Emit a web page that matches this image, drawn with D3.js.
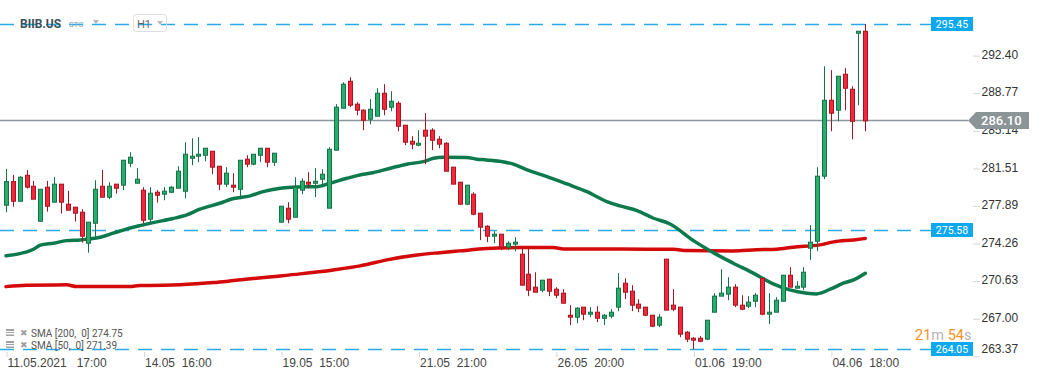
<!DOCTYPE html>
<html>
<head>
<meta charset="utf-8">
<script src="https://cdn.jsdelivr.net/npm/d3@7"></script>
<style>
  body { margin: 0; background: #fff; }
  svg { display: block; font-family: Roboto, "Noto Sans", sans-serif; }
</style>
</head>
<body>
<svg id="chart" width="1041" height="380"></svg>
<script>
// BIIB.US, H1 bars (11.05.2021 17:00 -> 07.06.2021)
const opens = [
  277.96, 280.24, 278.34, 280.85, 279.79, 276.41, 279.70, 278.25, 279.99, 278.06,
  277.77, 277.28, 274.29, 276.22, 279.79, 278.73, 279.99, 279.89, 282.01, 280.08,
  279.41, 276.61, 279.21, 279.02, 279.21, 279.60, 279.31, 282.49, 282.69, 282.78,
  283.17, 281.72, 279.99, 279.89, 279.50, 282.40, 281.92, 282.78, 283.46, 282.11,
  276.32, 277.67, 276.80, 279.41, 280.18, 280.08, 280.47, 277.67, 283.27, 287.32,
  289.92, 287.71, 287.13, 286.26, 286.55, 288.77, 287.42, 287.80, 285.68, 284.13,
  283.75, 285.20, 285.20, 284.33, 283.94, 281.63, 280.18, 278.06, 279.02, 277.19,
  275.93, 274.97, 275.16, 273.91, 274.20, 273.23, 271.30, 270.05, 269.76, 270.82,
  269.85, 269.47, 267.34, 267.15, 268.12, 267.44, 267.63, 267.05, 267.25, 268.12,
  270.43, 269.66, 268.41, 268.12, 267.34, 266.38, 272.75, 268.31, 268.12, 265.70,
  265.12, 265.12, 265.03, 267.63, 269.18, 269.37, 270.05, 268.31, 268.21, 268.69,
  270.91, 267.44, 267.63, 268.69, 271.20, 269.95, 270.05, 273.81, 274.48, 280.76,
  288.09, 287.13, 290.60, 289.15, 294.56, 294.75
];
const highs = [
  281.46, 280.88, 280.76, 281.36, 280.30, 279.50, 280.30, 280.69, 279.99, 279.34,
  277.77, 277.57, 276.32, 280.37, 281.36, 280.18, 279.99, 282.30, 283.07, 281.53,
  279.70, 279.70, 279.41, 279.70, 279.79, 281.72, 284.04, 284.42, 284.52, 283.46,
  283.17, 281.72, 281.63, 281.05, 282.30, 282.78, 282.88, 283.46, 283.46, 282.98,
  277.86, 278.25, 280.66, 280.56, 281.14, 281.53, 281.43, 283.56, 287.71, 289.83,
  290.31, 287.90, 287.22, 288.19, 289.25, 289.64, 288.96, 287.99, 285.68, 284.62,
  285.20, 286.84, 285.39, 284.62, 284.04, 281.63, 280.18, 279.89, 279.21, 277.19,
  276.03, 275.45, 275.16, 274.48, 274.87, 274.00, 273.81, 271.49, 270.72, 270.82,
  270.05, 269.85, 268.31, 268.12, 268.12, 268.12, 268.21, 267.44, 267.92, 271.40,
  270.91, 270.24, 268.89, 268.12, 267.34, 267.44, 272.75, 269.85, 268.12, 265.80,
  265.22, 265.32, 266.86, 269.47, 271.78, 271.01, 270.34, 269.27, 269.18, 269.47,
  270.91, 269.47, 269.08, 271.20, 271.98, 270.62, 271.98, 276.03, 281.63, 291.37,
  290.99, 290.41, 291.18, 289.44, 294.75, 295.45
];
const lows = [
  277.28, 277.82, 278.34, 279.56, 278.54, 276.41, 277.34, 278.25, 277.15, 277.48,
  276.38, 274.35, 273.38, 274.93, 278.73, 278.54, 279.08, 279.41, 281.63, 280.08,
  276.22, 276.22, 278.21, 278.44, 279.12, 279.60, 278.63, 281.82, 282.11, 282.20,
  280.95, 279.41, 279.70, 279.21, 278.54, 281.63, 281.82, 282.11, 281.63, 281.75,
  276.32, 276.22, 276.80, 279.02, 279.60, 278.73, 279.99, 277.67, 283.27, 287.32,
  287.42, 286.64, 285.20, 285.78, 286.55, 286.64, 287.03, 285.10, 283.75, 283.36,
  283.65, 281.92, 283.27, 283.46, 281.24, 279.99, 277.96, 277.96, 276.99, 274.58,
  274.39, 274.29, 273.62, 273.62, 273.52, 270.24, 269.18, 269.56, 269.56, 269.18,
  268.98, 268.50, 266.38, 266.57, 266.86, 267.15, 266.67, 266.38, 267.05, 267.73,
  268.89, 267.73, 267.63, 267.25, 266.19, 266.19, 267.83, 267.73, 265.22, 264.74,
  264.05, 264.74, 264.93, 267.63, 269.18, 268.79, 268.12, 267.83, 268.02, 268.12,
  267.34, 266.48, 267.63, 268.69, 270.05, 269.95, 269.76, 272.68, 273.52, 280.47,
  285.10, 286.06, 287.13, 284.33, 287.61, 285.10
];
const closes = [
  280.24, 278.34, 280.66, 279.70, 278.54, 279.50, 277.86, 279.99, 278.25, 277.48,
  277.19, 274.97, 276.32, 279.50, 278.73, 279.79, 279.60, 282.30, 282.59, 280.47,
  276.51, 279.12, 278.92, 279.31, 279.70, 281.24, 282.88, 282.69, 282.88, 283.46,
  281.63, 279.99, 281.05, 279.70, 282.30, 281.92, 282.88, 283.46, 282.11, 282.98,
  277.86, 276.61, 279.70, 280.27, 279.99, 280.27, 280.95, 283.36, 287.42, 289.64,
  287.61, 287.13, 286.16, 287.22, 288.77, 287.22, 287.99, 285.58, 284.04, 283.85,
  283.94, 284.62, 284.23, 283.85, 281.24, 279.99, 278.06, 279.89, 277.09, 275.84,
  274.97, 275.16, 273.91, 274.29, 274.39, 270.24, 269.76, 269.56, 270.72, 269.66,
  269.27, 268.50, 267.15, 268.02, 267.44, 267.63, 267.05, 267.34, 267.63, 269.95,
  269.56, 268.31, 268.02, 267.34, 266.28, 267.15, 267.83, 267.92, 265.51, 265.03,
  264.93, 264.83, 266.86, 269.18, 269.47, 270.05, 268.31, 267.92, 268.60, 269.27,
  267.44, 267.63, 268.79, 271.20, 270.05, 270.14, 271.49, 274.39, 280.76, 288.09,
  286.84, 290.41, 289.25, 286.06, 294.75, 286.10
];

// moving averages: [bar index, value]
const sma50 = [
  [0, 273.07], [4, 273.71], [5, 274.10], [6.9, 274.29], [8.8, 274.54], [10.8, 274.61],
  [12.2, 274.71], [13.7, 274.87], [15.6, 275.26], [17.6, 275.67], [19.5, 275.99],
  [21.4, 276.28], [24.3, 276.67], [26.3, 277.02], [28.2, 277.57], [31.1, 278.15],
  [33.1, 278.60], [35.5, 278.86], [37.4, 279.27], [39.9, 279.60], [42.3, 279.72],
  [45.2, 279.75], [47.1, 280.08], [49.6, 280.56], [52, 280.95], [53.4, 281.10],
  [55.9, 281.53], [58.3, 281.92], [60.7, 282.17], [62.2, 282.49], [63.6, 282.59],
  [67, 282.57], [68.5, 282.40], [69.9, 282.33], [73.8, 281.92], [75.8, 281.36],
  [78.7, 280.72], [81.6, 280.01], [84.5, 279.27], [87.4, 278.31], [89.3, 277.89],
  [91.8, 277.44], [94.2, 276.70], [96.6, 276.15], [100, 274.54], [102.9, 273.38],
  [105.8, 272.36], [108.7, 271.40], [111.6, 270.36], [114, 269.78], [116.5, 269.47],
  [117.9, 269.40], [119.9, 269.85], [121.8, 270.43], [123.3, 270.75], [125, 271.39]
];
const sma200 = [
  [0, 270.10], [3, 270.24], [8.8, 270.27], [10.3, 270.10], [18, 270.10], [19.5, 270.22],
  [20.9, 270.20], [25.3, 270.27], [30.2, 270.49], [33.1, 270.68], [37.9, 271.01],
  [42.8, 271.33], [47.6, 271.71], [51.5, 272.10], [55.4, 272.68], [59.8, 273.16],
  [63.1, 273.38], [66, 273.55], [69.9, 273.77], [74.8, 273.87], [79.6, 273.87],
  [81.1, 273.74], [86.9, 273.74], [93.2, 273.71], [97.1, 273.71], [99, 273.58],
  [105.8, 273.55], [109.2, 273.67], [112.1, 273.71], [114.5, 273.91], [118.4, 274.13],
  [120.4, 274.42], [123.3, 274.61], [125, 274.75]
];

const levels = [295.45, 275.58, 264.05];
const lastPrice = 286.10;
const yTicks = [292.40, 288.77, 285.14, 281.51, 277.89, 274.26, 270.63, 267.00, 263.37];
const xTickIdx = [0, 20, 40, 60, 80, 100, 120];
const xTickLabels = ["11.05.2021   17:00", "14.05  16:00", "19.05  15:00", "21.05  21:00",
  "26.05  20:00", "01.06  19:00", "04.06  18:00"];
const legendRows = ["SMA [200,  0] 274.75", "SMA [50,  0] 271.39"];

const svg = d3.select("#chart");
const W = 1041, H = 380;

const x = d3.scaleLinear().domain([0, opens.length - 1]).range([6, 865.3]);
const y = d3.scaleLinear().domain([264.05, 295.45]).range([349.3, 24]);

const candles = opens.map((o, i) => ({ i, o, h: highs[i], l: lows[i], c: closes[i] }));

// --- level lines ---
const gLevels = svg.append("g");
gLevels.selectAll("line")
  .data(levels)
  .join("line")
  .attr("x1", 0)
  .attr("x2", 931)
  .attr("y1", d => Math.round(y(d)) + 0.5)
  .attr("y2", d => Math.round(y(d)) + 0.5)
  .attr("stroke", "#29aae8")
  .attr("stroke-width", 1.4)
  .attr("stroke-dasharray", "14,9");

// current price line
svg.append("line")
  .attr("x1", 0).attr("x2", 968)
  .attr("y1", Math.round(y(lastPrice)) - 0.5)
  .attr("y2", Math.round(y(lastPrice)) - 0.5)
  .attr("stroke", "#8a969c")
  .attr("stroke-width", 1.3);

// --- moving averages ---
const maLine = d3.line()
  .x(d => x(d[0]))
  .y(d => y(d[1]))
  .curve(d3.curveMonotoneX);

svg.append("path")
  .attr("d", maLine(sma200))
  .attr("fill", "none")
  .attr("stroke", "#d40a0a")
  .attr("stroke-width", 3.5)
  .attr("stroke-linecap", "round");

svg.append("path")
  .attr("d", maLine(sma50))
  .attr("fill", "none")
  .attr("stroke", "#0d7a4e")
  .attr("stroke-width", 3.5)
  .attr("stroke-linecap", "round");

// --- candles ---
const up = d => d.c >= d.o;
const gC = svg.append("g");
const cg = gC.selectAll("g").data(candles).join("g");

cg.append("line")
  .attr("x1", d => Math.round(x(d.i)) + 0.5)
  .attr("x2", d => Math.round(x(d.i)) + 0.5)
  .attr("y1", d => y(d.h))
  .attr("y2", d => y(d.l))
  .attr("stroke", d => up(d) ? "#137246" : "#a8141f")
  .attr("stroke-width", 1);

cg.append("rect")
  .attr("x", d => Math.round(x(d.i)) - 1.5)
  .attr("width", 4)
  .attr("y", d => y(Math.max(d.o, d.c)))
  .attr("height", d => Math.max(1, Math.abs(y(d.o) - y(d.c))))
  .attr("fill", d => up(d) ? "#28ad6c" : "#f4283c")
  .attr("stroke", d => up(d) ? "#137246" : "#a8141f")
  .attr("stroke-width", 1);

// --- right axis ---
const yAxis = d3.axisRight(y)
  .tickValues(yTicks)
  .tickSize(7)
  .tickPadding(1.5)
  .tickFormat(d3.format(".2f"));

const gY = svg.append("g")
  .attr("transform", "translate(973,0)")
  .call(yAxis);
gY.select(".domain").remove();
gY.selectAll(".tick line").attr("stroke", "#d6d6d6");
gY.selectAll(".tick text")
  .attr("fill", "#333")
  .attr("font-size", 12)
  .attr("dy", "0.22em")
  .attr("y", d => Math.min(y(d), 349.5) - y(d));

// --- bottom axis ---
const xAxis = d3.axisBottom(x)
  .tickValues(xTickIdx)
  .tickSize(5)
  .tickPadding(1.5)
  .tickFormat((d, k) => xTickLabels[k]);

const gX = svg.append("g")
  .attr("transform", "translate(0,352)")
  .call(xAxis);
gX.select(".domain").remove();
gX.selectAll(".tick line").attr("stroke", "#d6d6d6").attr("transform", "translate(0.5,0)");
gX.selectAll(".tick text")
  .attr("fill", "#444")
  .attr("font-size", 12)
  .attr("text-anchor", "start")
  .attr("x", 1)
  .style("white-space", "pre");

// --- level tags ---
const tags = svg.append("g").selectAll("g").data(levels).join("g")
  .attr("transform", d => `translate(931,${Math.round(y(d))})`);
tags.append("rect")
  .attr("x", 0).attr("y", -7).attr("width", 42).attr("height", 14)
  .attr("fill", "#0ea8ef");
tags.append("text")
  .attr("x", 21).attr("y", 0).attr("dy", "0.35em")
  .attr("text-anchor", "middle")
  .attr("fill", "#fff")
  .attr("font-size", 10.5)
  .text(d => d3.format(".2f")(d));

// current price tag
const py = Math.round(y(lastPrice)) - 0.5;
svg.append("path")
  .attr("d", `M968,${py} L976,${py - 8.5} L1029,${py - 8.5} L1029,${py + 8.5} L976,${py + 8.5} Z`)
  .attr("fill", "#8b9497");
svg.append("text")
  .attr("x", 981).attr("y", py).attr("dy", "0.36em")
  .attr("fill", "#fff")
  .attr("font-size", 13)
  .attr("font-weight", 500)
  .text(d3.format(".2f")(lastPrice));

// --- header ---
svg.append("text")
  .attr("x", 20).attr("y", 28)
  .attr("font-size", 12).attr("font-weight", "bold")
  .attr("fill", "#3d4f58")
  .text("BIIB.US");
svg.append("text")
  .attr("x", 69).attr("y", 27)
  .attr("font-size", 8)
  .attr("fill", "#90a4ae")
  .text("STC");
svg.append("path").attr("d", "M93,20 L99,20 L96,24 Z").attr("fill", "#b0b8bc");
svg.append("rect")
  .attr("x", 133.5).attr("y", 14.5).attr("width", 33).attr("height", 17).attr("rx", 3)
  .attr("fill", "none").attr("stroke", "#dedede");
svg.append("text")
  .attr("x", 137).attr("y", 28)
  .attr("font-size", 11).attr("fill", "#666")
  .text("H1");
svg.append("path").attr("d", "M157,21 L163,21 L160,25 Z").attr("fill", "#bbb");

// --- legend ---
const leg = svg.append("g").selectAll("g").data(legendRows).join("g")
  .attr("transform", (d, k) => `translate(0,${333 + k * 12})`);
leg.append("rect").attr("x", 6).attr("y", -4).attr("width", 8).attr("height", 2).attr("fill", "#a0a0a0");
leg.append("rect").attr("x", 6).attr("y", -1).attr("width", 8).attr("height", 1).attr("fill", "#a0a0a0");
leg.append("rect").attr("x", 6).attr("y", 1.5).attr("width", 8).attr("height", 1.5).attr("fill", "#a0a0a0");
leg.append("text")
  .attr("x", 19.5).attr("y", 0).attr("dy", "0.35em")
  .attr("font-size", 9).attr("fill", "#a0a0a0")
  .text("\u2716");
leg.append("text")
  .attr("x", 31).attr("y", 0).attr("dy", "0.35em")
  .attr("font-size", 10).attr("fill", "#555")
  .style("white-space", "pre")
  .text(d => d);

// --- bar countdown ---
const timer = svg.append("text")
  .attr("x", 915).attr("y", 340)
  .attr("font-size", 14.5);
timer.append("tspan").attr("fill", "#f7931e").text("21");
timer.append("tspan").attr("fill", "#b5b5b5").text("m ");
timer.append("tspan").attr("fill", "#f7931e").text("54");
timer.append("tspan").attr("fill", "#b5b5b5").text("s");
</script>
</body>
</html>
